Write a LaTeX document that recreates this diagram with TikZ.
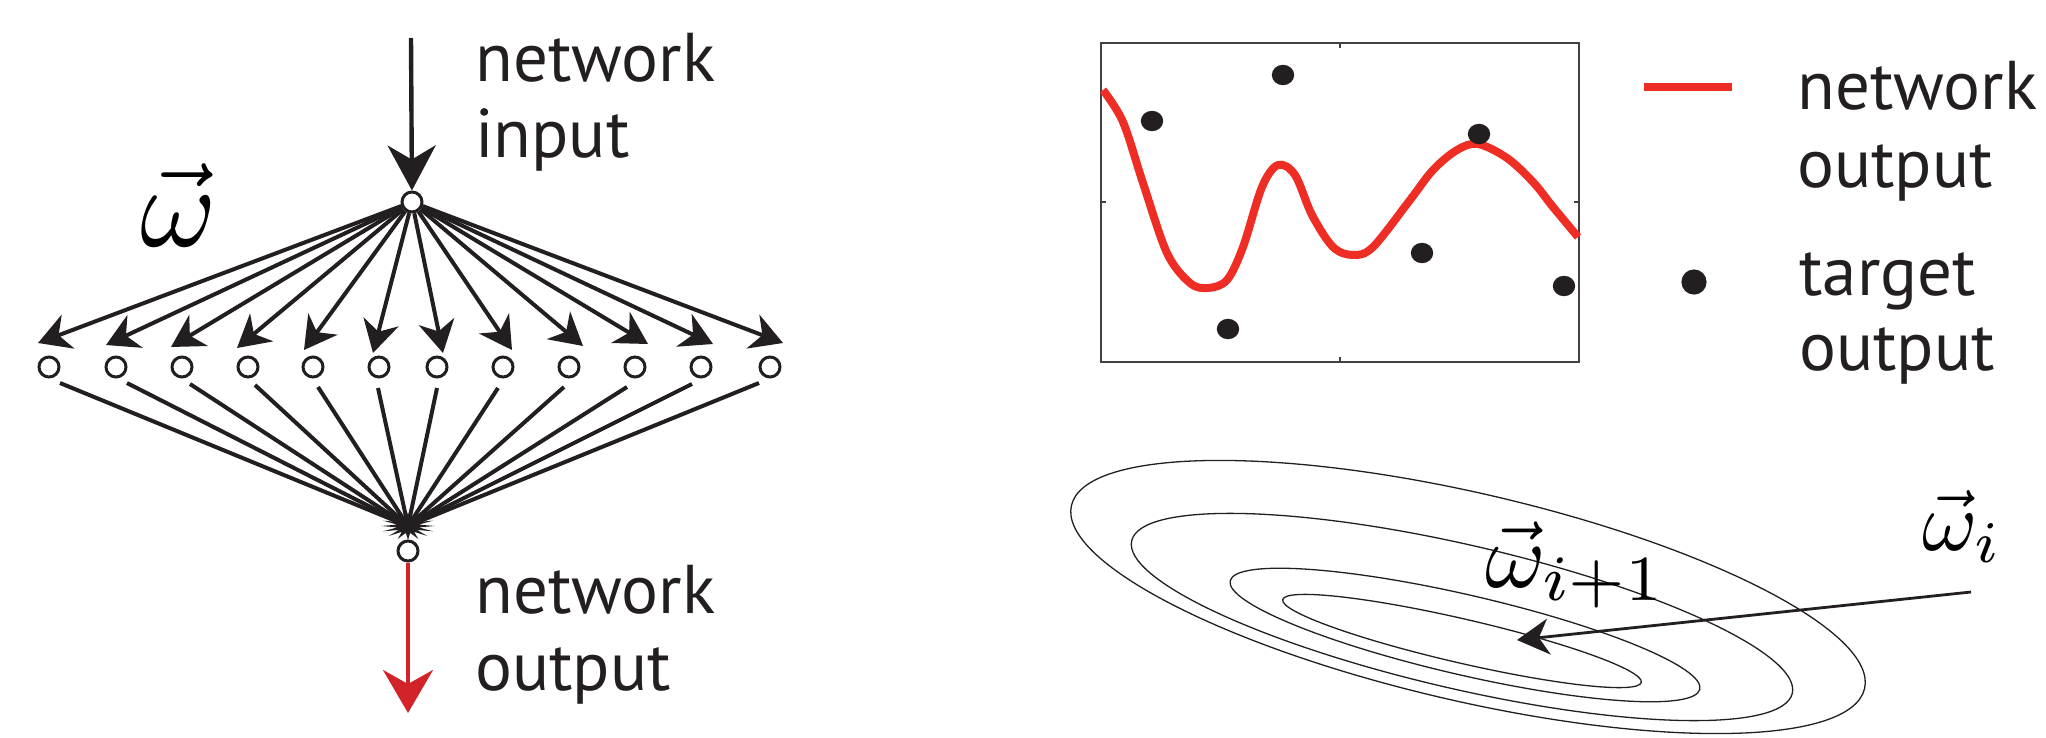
\documentclass[tikz,border=0pt]{standalone}
\usepackage{graphicx}
\usepackage{fontspec}
\newfontfamily\lblfont{PT Sans}
\usetikzlibrary{arrows.meta,backgrounds}
\definecolor{arrred}{RGB}{210,35,42}
\definecolor{curvered}{RGB}{238,45,36}
\definecolor{ink}{RGB}{35,31,32}
\begin{document}
\begin{tikzpicture}[x=0.5pt,y=-0.5pt,
  neuron/.style={circle,draw=ink,fill=white,line width=1.5pt,minimum size=10pt,inner sep=0pt},
  fan/.style={draw=ink,line width=2pt},
  fanarrow/.style={fan,-{Stealth[length=16pt,width=18pt,inset=5pt]}},
  lbl/.style={anchor=base west,inner sep=0pt,font=\lblfont\fontsize{34.5pt}{40pt}\selectfont,text=ink},
  mathlbl/.style={anchor=base west,inner sep=0pt,text=black},
  contour/.style={draw=ink,line width=0.65pt},
]
\useasboundingbox (0,0) rectangle (2046,738);

% ---------------- network ----------------
\node[neuron] (in) at (412,202) {};
\foreach \i/\x in {1/49,2/116,3/182,4/248,5/313,6/379,7/437,8/503,9/569,10/635,11/701,12/770}
  \node[neuron] (m\i) at (\x,367) {};
\node[neuron] (out) at (408,551) {};

\foreach \i/\x/\y in {1/38/343,2/106/345,3/171/347,4/237/348,5/304/350,6/373/353,7/443/353,8/512/350,9/583/346,10/648/344,11/713/344,12/783/343}
  \coordinate (t\i) at (\x,\y);
\foreach \i/\x/\y in {1/60/383,2/127/383,3/190/384,4/255/385,5/318/387,6/378/388,7/437/388,8/498/388,9/564/387,10/627/387,11/692/384,12/759/383}
  \coordinate (s\i) at (\x,\y);
\coordinate (hub) at (408,526);
\coordinate (intop) at (411,38);
\coordinate (outend) at (408,713);

\begin{pgfonlayer}{background}
  \foreach \i in {1,...,12} {
    \draw[fanarrow] (in) -- (t\i);
    \draw[fan] (s\i) -- (hub);
  }
  \fill[ink,shift={(408,526)}] plot[samples at={0,1,...,31},variable=\k]
     ({(27-16*mod(\k,2))*cos(\k*11.25)},{(14-7*mod(\k,2))*sin(\k*11.25)}) -- cycle;
\end{pgfonlayer}

\draw[ink,line width=2.2pt,-{Stealth[length=22.5pt,width=24pt,inset=7pt]}] (intop) -- (in);
\draw[arrred,line width=2.2pt,-{Stealth[length=21.5pt,width=25pt,inset=7pt]}] (out) -- (outend);

\node[lbl] (ni1) at (475,82) {network};
\node[lbl] (ni2) at (475,157) {input};
\node[lbl] (no1) at (475,613) {network};
\node[lbl] (no2) at (475,690) {output};

\node[mathlbl] (wvec) at (140,246) {\scalebox{5.8}{$\vec{\omega}$}};

% ---------------- plot ----------------
\draw[ink!85,line width=0.7pt] (1101,43) rectangle (1579,362);
\draw[ink!85,line width=0.7pt] (1340,43) -- (1340,48) (1340,362) -- (1340,357)
  (1101,202) -- (1106,202) (1579,202) -- (1574,202);
\draw[curvered,line width=4pt,line join=round] plot[smooth,tension=0.55] coordinates {
  (1103,90) (1123,122) (1143,183) (1167,253) (1190,283) (1208,288) (1227,280)
  (1243,247) (1262,187) (1278,165) (1295,175) (1312,215) (1333,247) (1353,255)
  (1373,247) (1410,200) (1433,170) (1457,150) (1478,144) (1507,158) (1533,182)
  (1553,207) (1578,237)};
\foreach \x/\y in {1152/121,1283/75,1228/329,1422/253,1479/134,1564/286}
  \fill[ink] (\x,\y) ellipse [x radius=5.6pt,y radius=5.1pt];

% legend
\coordinate (lg1) at (1644,87);
\coordinate (lg2) at (1732,87);
\draw[curvered,line width=4pt] (lg1) -- (lg2);
\fill[ink] (1694,282) circle [radius=6.3pt];
\node[lbl] (ln1) at (1797,110) {network};
\node[lbl] (ln2) at (1797,187) {output};
\node[lbl] (lt1) at (1799,295) {target};
\node[lbl] (lt2) at (1799,370) {output};

% ---------------- error surface ----------------
\draw[contour,rotate around={-13:(1462,641)}] (1462,641) ellipse [x radius=92pt,y radius=11pt];
\draw[contour,rotate around={-13:(1465,635)}] (1465,635) ellipse [x radius=120.5pt,y radius=20pt];
\draw[contour,rotate around={-13:(1462,617)}] (1462,617) ellipse [x radius=169.5pt,y radius=36pt];
\draw[contour,rotate around={-13:(1468,597)}] (1468,597) ellipse [x radius=203.5pt,y radius=52pt];

\coordinate (wi) at (1971,592);
\coordinate (wnext) at (1517,640);
\draw[ink,line width=1.4pt,-{Stealth[length=16pt,width=18pt,inset=5pt]}] (wi) -- (wnext);

\node[mathlbl] (wnlbl) at (1485,587) {\scalebox{4.6}{$\vec{\omega}_{i+1}$}};
\node[mathlbl] (wilbl) at (1922,550) {\scalebox{4.2}{$\vec{\omega}_i$}};
\end{tikzpicture}
\end{document}
